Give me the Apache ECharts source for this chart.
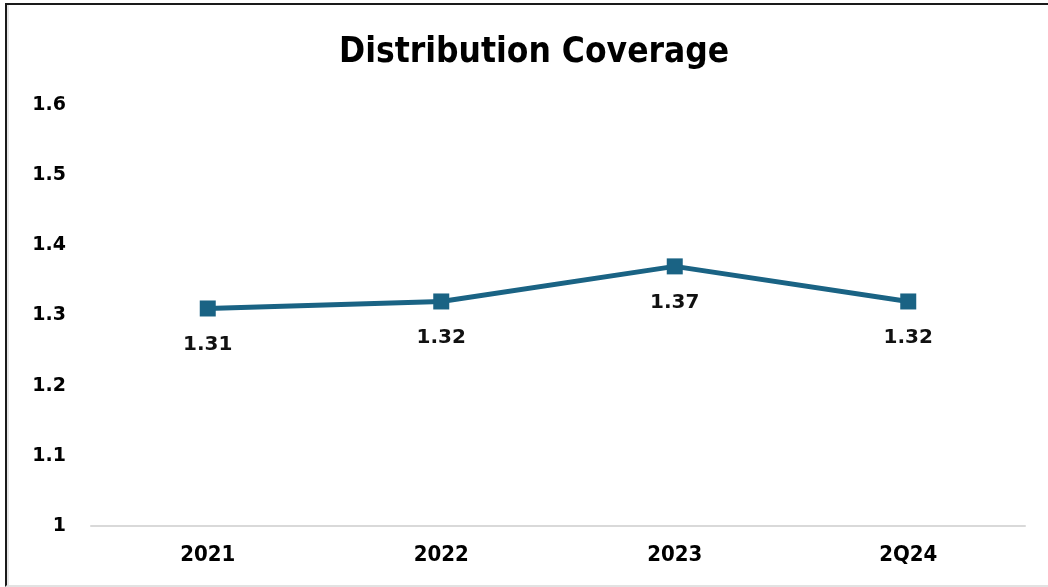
<!DOCTYPE html>
<html>
<head>
<meta charset="utf-8">
<script src="https://cdn.jsdelivr.net/npm/echarts@6/dist/echarts.min.js"></script>
<style>
html,body{margin:0;padding:0;background:#fff;}
#chart{position:absolute;left:0;top:0;width:1048px;height:587px;}
#frame{position:absolute;left:5px;top:3px;width:1050px;height:580px;border-left:2px solid #1a1a1a;border-top:2px solid #1a1a1a;border-bottom:2px solid #e2e2e2;pointer-events:none;box-shadow:inset 2px 0 0 #e6e6e6;}
</style>
</head>
<body>
<div id="chart"></div>
<div id="frame"></div>
<script>
const categories = ['2021', '2022', '2023', '2Q24'];
const coverage = [1.31, 1.32, 1.37, 1.32];
const yTicks = { min: 1, max: 1.6, interval: 0.1 };
const titleText = 'Distribution Coverage';

const condFont = '"DejaVu Sans Condensed", "Liberation Sans Narrow", "DejaVu Sans", sans-serif';
const wideFont = '"DejaVu Sans", "Liberation Sans", sans-serif';

const chart = echarts.init(document.getElementById('chart'), null, { renderer: 'canvas' });
chart.setOption({
  animation: false,
  backgroundColor: '#ffffff',
  title: {
    text: titleText,
    left: 339,
    top: 35,
    padding: 0,
    textStyle: { fontFamily: condFont, fontWeight: 'bold', fontSize: 35, color: '#000' }
  },
  grid: { left: 91, right: 23, top: 105, bottom: 61 },
  xAxis: {
    type: 'category',
    data: categories,
    boundaryGap: true,
    axisLine: { show: true, lineStyle: { color: '#d9d9d9', width: 2 } },
    axisTick: { show: false },
    axisLabel: { margin: 18, fontFamily: condFont, fontWeight: 'bold', fontSize: 22, color: '#000' },
    splitLine: { show: false }
  },
  yAxis: {
    type: 'value',
    min: yTicks.min,
    max: yTicks.max,
    interval: yTicks.interval,
    axisLine: { show: false },
    axisTick: { show: false },
    splitLine: { show: false },
    axisLabel: {
      margin: 25,
      align: 'right',
      fontFamily: wideFont, fontWeight: 'bold', fontSize: 19, color: '#000',
      formatter: v => String(Math.round(v * 10) / 10)
    }
  },
  series: [{
    type: 'line',
    data: coverage,
    symbol: 'rect',
    symbolSize: 16,
    lineStyle: { color: '#1a6384', width: 5 },
    itemStyle: { color: '#1a6384' },
    label: {
      show: true,
      position: 'bottom',
      distance: 18,
      fontFamily: wideFont, fontWeight: 'bold', fontSize: 20, color: '#111',
      formatter: p => p.value.toFixed(2)
    }
  }]
});
</script>
</body>
</html>
